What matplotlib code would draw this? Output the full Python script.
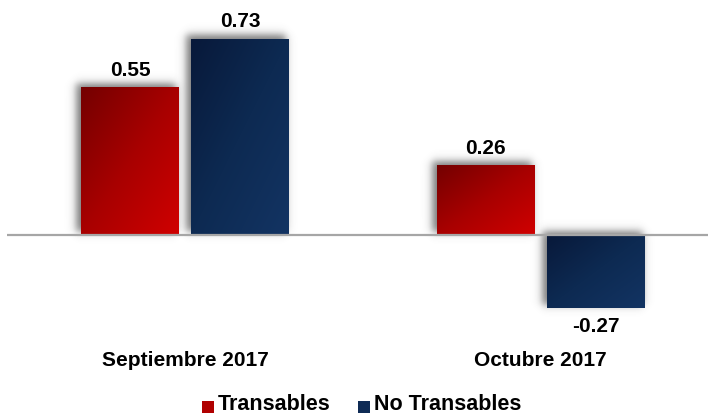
import numpy as np
import matplotlib
matplotlib.use("Agg")
import matplotlib.pyplot as plt
from matplotlib.patches import Rectangle
from matplotlib.colors import LinearSegmentedColormap

categories = ["Septiembre 2017", "Octubre 2017"]
series_names = ["Transables", "No Transables"]
transables = [0.55, 0.26]
no_transables = [0.73, -0.27]
value_labels = [["0.55", "0.26"], ["0.73", "-0.27"]]

W, H = 708, 415
fig = plt.figure(figsize=(W / 100, H / 100), dpi=100)
ax = fig.add_axes([7 / W, 0, 1 - 7 / W, 1])
ax.set_axis_off()

ppx = 355.5          # pixels per x unit
ppy = 269.0          # pixels per y unit
x0_px = 185 - 7      # group 0 center from axes left
ax.set_xlim(-x0_px / ppx, (W - 7 - x0_px) / ppx)
ax.set_ylim(-(H - 235) / ppy, 235 / ppy)

bw = 98 / ppx
off = 55 / ppx
FONT = "Liberation Sans"

cmaps = [
    LinearSegmentedColormap.from_list("r", ["#740000", "#a80000", "#d00000"]),
    LinearSegmentedColormap.from_list("b", ["#08193a", "#0d2a52", "#133463"]),
]

def shadow(x, y0, y1):
    pad_x, pad_y = 20 / ppx, 20 / ppy
    lo, hi = min(y0, y1), max(y0, y1)
    ex = [x - bw / 2 - pad_x, x + bw / 2 + pad_x, lo - pad_y, hi + pad_y]
    nx, ny = 160, 160
    xs = np.linspace(ex[0], ex[1], nx)
    ys = np.linspace(ex[2], ex[3], ny)
    sx, sy = 6 / ppx, 6 / ppy
    dx, dy = -3 / ppx, 3 / ppy
    def box(v, a, b, s):
        return (1 / (1 + np.exp(-(v - a) / (s / 2.5)))) * (1 / (1 + np.exp((v - b) / (s / 2.5))))
    X = box(xs - dx, x - bw / 2 - 2 / ppx, x + bw / 2, sx)
    Y = box(ys - dy, lo, hi + 1 / ppy, sy)
    A = np.outer(Y, X) * 0.75
    img = np.zeros((ny, nx, 4))
    img[..., :3] = 0.30
    img[..., 3] = A
    ax.imshow(img, extent=ex, origin="lower", aspect="auto", zorder=1, interpolation="bilinear")

def grad_bar(x, h, cmap):
    lo, hi = min(0, h), max(0, h)
    n = 100
    u = np.linspace(0, 1, n)
    U, V = np.meshgrid(u, u)
    G = (U + (1 - V)) / 2
    ex = [x - bw / 2, x + bw / 2, lo, hi]
    im = ax.imshow(G, extent=ex, origin="lower", aspect="auto", cmap=cmap,
                   vmin=0, vmax=1, zorder=2, interpolation="bilinear")
    rect = Rectangle((x - bw / 2, lo), bw, hi - lo, transform=ax.transData,
                     facecolor="none", edgecolor="none")
    ax.add_patch(rect)
    im.set_clip_path(rect)

for s, vals in enumerate([transables, no_transables]):
    for i, v in enumerate(vals):
        x = i + (-off if s == 0 else off)
        shadow(x, 0, v)
        grad_bar(x, v, cmaps[s])
        if v >= 0:
            ax.text(x, v + 17 / ppy, value_labels[s][i], ha="center", va="center",
                    fontsize=15, fontweight="bold", family=FONT, zorder=5)
        else:
            ax.text(x, v - 19 / ppy, value_labels[s][i], ha="center", va="center",
                    fontsize=15, fontweight="bold", family=FONT, zorder=5)

ax.axhline(0, color="#a6a6a6", lw=1.6, zorder=3)

for i, c in enumerate(categories):
    ax.text(i, -125 / ppy, c, ha="center", va="center", fontsize=15,
            fontweight="bold", family=FONT)

# legend
leg_y = 1 - 404 / H
sq = 12
fig.patches.append(Rectangle((202 / W, 1 - 413 / H), sq / W, sq / H, transform=fig.transFigure,
                             facecolor="#b00000", edgecolor="none"))
fig.text(218 / W, leg_y, series_names[0], ha="left", va="center", fontsize=15.5,
         fontweight="bold", family=FONT)
fig.patches.append(Rectangle((358 / W, 1 - 413 / H), sq / W, sq / H, transform=fig.transFigure,
                             facecolor="#0f2b55", edgecolor="none"))
fig.text(374 / W, leg_y, series_names[1], ha="left", va="center", fontsize=15.5,
         fontweight="bold", family=FONT)

fig.savefig("out.png", dpi=100)
